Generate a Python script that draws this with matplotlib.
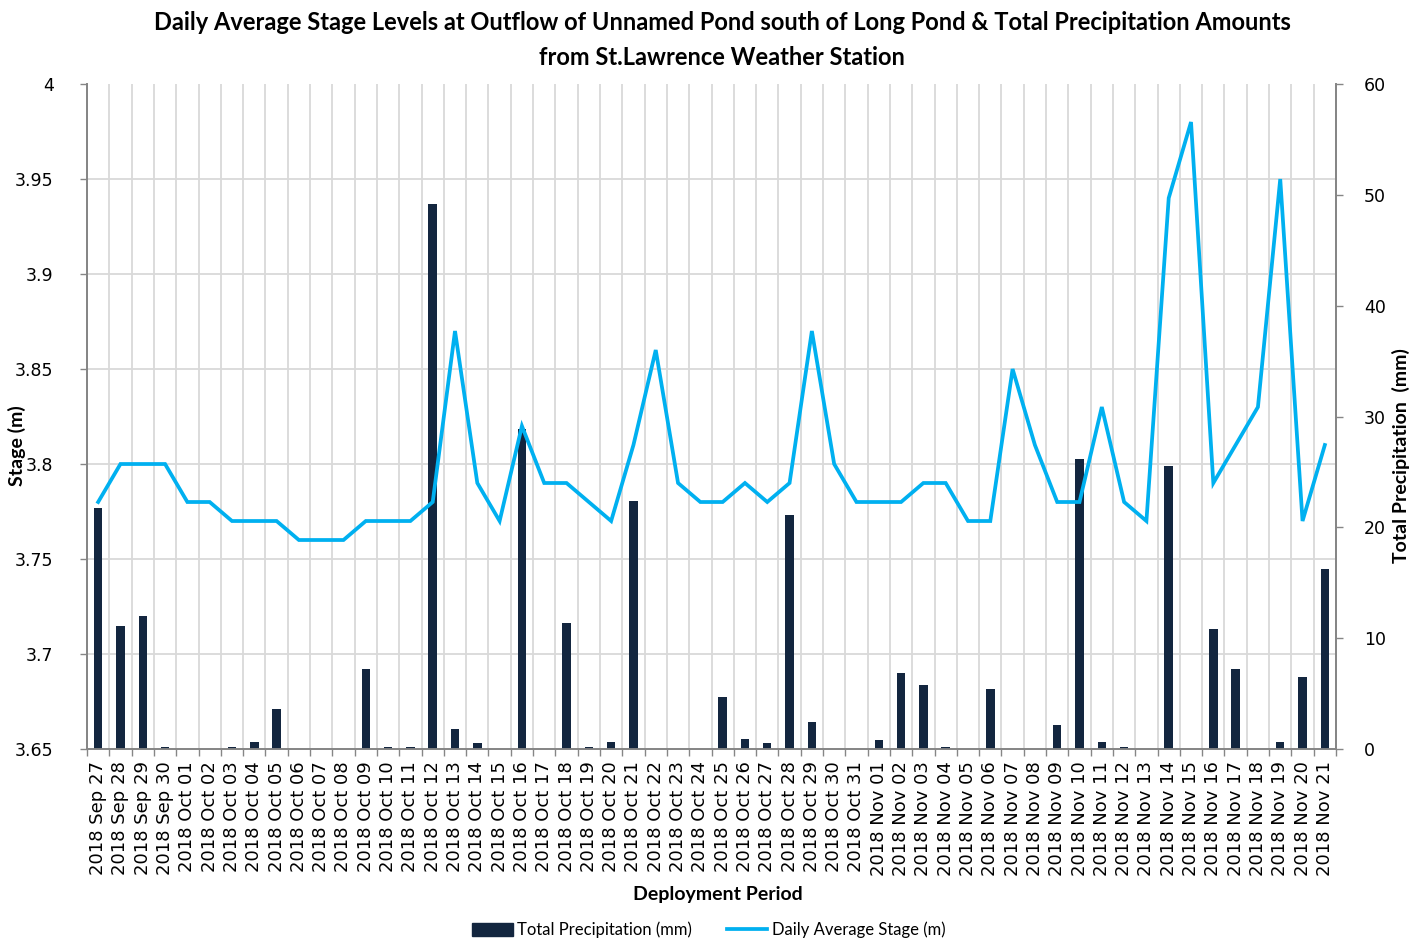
import matplotlib
matplotlib.use("Agg")
import matplotlib.pyplot as plt
from matplotlib.patches import Patch
from matplotlib.lines import Line2D
import numpy as np

# Daily series, 27 Sep - 21 Nov 2018
dates = (["2018 Sep %02d" % d for d in range(27, 31)]
         + ["2018 Oct %02d" % d for d in range(1, 32)]
         + ["2018 Nov %02d" % d for d in range(1, 22)])

stage_m = [3.78, 3.80, 3.80, 3.80, 3.78, 3.78, 3.77, 3.77, 3.77, 3.76,
           3.76, 3.76, 3.77, 3.77, 3.77, 3.78, 3.87, 3.79, 3.77, 3.82,
           3.79, 3.79, 3.78, 3.77, 3.81, 3.86, 3.79, 3.78, 3.78, 3.79,
           3.78, 3.79, 3.87, 3.80, 3.78, 3.78, 3.78, 3.79, 3.79, 3.77,
           3.77, 3.85, 3.81, 3.78, 3.78, 3.83, 3.78, 3.77, 3.94, 3.98,
           3.79, 3.81, 3.83, 3.95, 3.77, 3.81]

precip_mm = [21.7, 11.1, 12.0, 0.2, 0.0, 0.0, 0.2, 0.6, 3.6, 0.0,
             0.0, 0.0, 7.2, 0.2, 0.2, 49.2, 1.8, 0.5, 0.0, 28.9,
             0.0, 11.4, 0.2, 0.6, 22.4, 0.0, 0.0, 0.0, 4.7, 0.9,
             0.5, 21.1, 2.4, 0.0, 0.0, 0.8, 6.9, 5.8, 0.2, 0.0,
             5.4, 0.0, 0.0, 2.2, 26.2, 0.6, 0.2, 0.0, 25.5, 0.0,
             10.8, 7.2, 0.0, 0.6, 6.5, 16.2]

stage_ticks = [3.65, 3.7, 3.75, 3.8, 3.85, 3.9, 3.95, 4.0]
stage_ticklabels = ["3.65", "3.7", "3.75", "3.8", "3.85", "3.9", "3.95", "4"]
precip_ticks = [0, 10, 20, 30, 40, 50, 60]

BAR_COLOR = "#13263F"
LINE_COLOR = "#00B0F0"
GRID_COLOR = "#D9D9D9"
AXIS_COLOR = "#868686"
TEXT_COLOR = "#000000"
TICK_FONT = "DejaVu Sans"
HEAD_FONT = "Lato"

fig = plt.figure(figsize=(14.24, 9.40), dpi=100)
ax_p = fig.add_axes([0.0611, 0.2032, 0.8771, 0.7074])  # precipitation bars
ax_s = ax_p.twinx()                                     # stage line on top

n = len(dates)
x = np.arange(n)

# bars
ax_p.bar(x, precip_mm, width=0.38, color=BAR_COLOR, zorder=3)
ax_p.set_xlim(-0.5, n - 0.5)
ax_p.set_ylim(0, 60)

# line
ax_s.plot(x, stage_m, color=LINE_COLOR, lw=2.7, solid_joinstyle="miter", zorder=5)
ax_s.set_ylim(3.65, 4.0)

# gridlines: horizontal at stage ticks, vertical at day boundaries
for t in stage_ticks[1:-1]:
    frac = (t - stage_ticks[0]) / (stage_ticks[-1] - stage_ticks[0])
    ax_p.plot([0, 1], [frac, frac], transform=ax_p.transAxes,
              color=GRID_COLOR, lw=1.3, zorder=0)
bounds = np.arange(-0.5, n, 1.0)
ax_p.set_xticks(bounds, minor=True)
ax_p.grid(True, which="minor", axis="x", color=GRID_COLOR, lw=1.3, zorder=0)
ax_p.set_axisbelow(True)

ax_p.set_xticks(x)
ax_p.set_xticklabels(dates, rotation=90, fontsize=13, family=TICK_FONT,
                     color=TEXT_COLOR)
ax_p.tick_params(axis="x", which="major", length=0, pad=9)
ax_p.tick_params(axis="x", which="minor", length=5, width=1.0,
                 color=AXIS_COLOR, direction="out")

# precipitation axis on the right
ax_p.yaxis.tick_right()
ax_p.yaxis.set_label_position("right")
ax_p.set_yticks(precip_ticks)
ax_p.set_yticklabels([str(v) for v in precip_ticks], fontsize=12.5,
                     family=TICK_FONT, color=TEXT_COLOR)
ax_p.tick_params(axis="y", length=5, width=1.0, color=AXIS_COLOR, pad=15)
ax_p.set_ylabel("Total Precipitation  (mm)", fontsize=14, fontweight="bold",
                family=HEAD_FONT, rotation=90)
ax_p.yaxis.set_label_coords(1.0448, 0.442)

# stage axis on the left
ax_s.yaxis.tick_left()
ax_s.yaxis.set_label_position("left")
ax_s.set_yticks(stage_ticks)
ax_s.set_yticklabels(stage_ticklabels, fontsize=12.5, family=TICK_FONT,
                     color=TEXT_COLOR)
ax_s.tick_params(axis="y", length=5, width=1.0, color=AXIS_COLOR, pad=19)
ax_s.set_ylabel("Stage (m)", fontsize=14, fontweight="bold", family=HEAD_FONT)
ax_s.yaxis.set_label_coords(-0.0488, 0.456)

for a in (ax_p, ax_s):
    a.spines["top"].set_visible(False)
    for side in ("left", "right", "bottom"):
        a.spines[side].set_color(AXIS_COLOR)
        a.spines[side].set_linewidth(1.3)

ax_p.set_xlabel("Deployment Period", fontsize=14, fontweight="bold",
                family=HEAD_FONT)
ax_p.xaxis.set_label_coords(0.505, -0.206)

fig.text(0.507, 0.988,
         "Daily Average Stage Levels at Outflow of Unnamed Pond south of Long Pond & Total Precipitation Amounts\nfrom St.Lawrence Weather Station",
         ha="center", va="top", fontsize=17.0, fontweight="bold",
         family=HEAD_FONT, linespacing=1.6)

handles = [Patch(facecolor=BAR_COLOR, edgecolor=BAR_COLOR),
           Line2D([], [], color=LINE_COLOR, lw=2.7)]
fig.legend(handles, ["Total Precipitation (mm)", "Daily Average Stage (m)"],
           loc="center", bbox_to_anchor=(0.4975, 0.0105), ncol=2, frameon=False,
           prop={"family": HEAD_FONT, "size": 12}, handlelength=2.45,
           handleheight=0.75, handletextpad=0.25, columnspacing=2.1)

fig.savefig("out.png", dpi=100)
